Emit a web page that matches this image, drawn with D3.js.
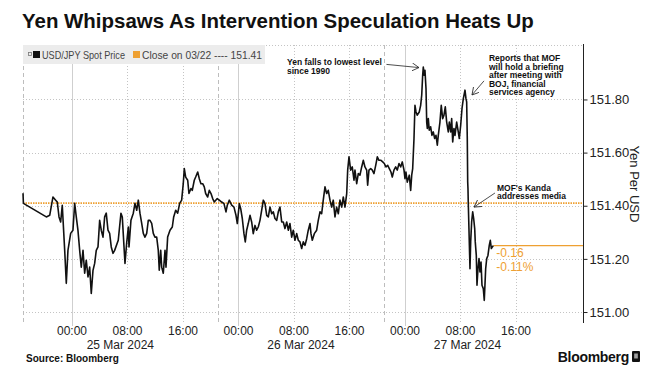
<!DOCTYPE html>
<html>
<head>
<meta charset="utf-8">
<script src="https://cdn.jsdelivr.net/npm/d3@7"></script>
<style>
  body { margin: 0; background: #fff; }
  svg { display: block; font-family: "Liberation Sans", Arial, sans-serif; }
</style>
</head>
<body>
<svg id="chart" width="669" height="383"></svg>
<script>
// hours from 25 Mar 2024 00:00, USD/JPY spot
const hours = [
  -7.06, -7.0, -3.70, -3.21, -2.74, -2.35, -2.12, -1.87, -1.63, -1.40, -1.05, -0.82, -0.58, -0.19,
  0.14, 0.39, 0.62, 0.86, 1.11, 1.34, 1.59, 1.83, 2.06, 2.31, 2.55, 2.78, 3.03, 3.27, 3.50, 3.75,
  3.99, 4.22, 4.47, 4.71, 4.94, 5.19, 5.43, 5.66, 5.91, 6.15,
  6.67, 7.06, 7.25, 7.64, 7.88, 8.12, 8.22, 8.50, 8.84, 9.08, 9.33, 9.56, 9.80, 10.05, 10.28, 10.52,
  10.77, 11.00, 11.24, 11.49, 11.72, 11.96, 12.21, 12.44, 12.58, 12.79, 12.93, 13.16, 13.41, 13.55,
  13.79, 14.13, 14.46, 14.66, 14.95, 15.24, 15.52, 15.81, 16.04, 16.19, 16.39, 16.68, 16.86, 17.15,
  17.34, 17.63, 17.83, 18.12, 18.35, 18.59, 18.84, 19.07, 19.27, 19.56, 19.79, 20.04, 20.28, 20.51,
  20.94, 21.23, 21.58, 21.91, 22.20, 22.39, 22.67, 23.02, 23.35, 23.64, 23.83, 24.12, 24.32, 24.55,
  24.79, 24.98, 25.18, 25.41, 25.66, 25.90, 26.13, 26.38, 26.62, 26.85, 27.10, 27.34, 27.58, 27.82,
  28.07, 28.30, 28.54, 28.79, 29.02, 29.26, 29.51, 29.74, 29.98, 30.23, 30.46, 30.70, 30.95, 31.18,
  31.42, 31.67, 31.90, 32.14, 32.39, 32.62, 32.86, 33.11, 33.34, 33.59, 33.83,
  34.06, 34.31, 34.45, 34.64, 34.93, 35.27, 35.50, 35.75, 35.99, 36.22, 36.47, 36.71, 36.94, 37.19,
  37.43, 37.66, 37.91, 38.15, 38.39, 38.63, 38.88, 39.11, 39.35, 39.60, 39.74, 39.93, 40.17, 40.40,
  40.65, 40.79, 41.04, 41.27, 41.51, 41.76, 41.99, 42.23, 42.48, 42.62, 42.81, 43.06, 43.29, 43.53,
  43.78, 44.01, 44.25, 44.54, 44.79, 45.02, 45.26, 45.51, 45.74, 45.98, 46.17, 46.41, 46.66, 46.89,
  47.14, 47.38, 47.61, 47.86,
  48.00, 48.14, 48.33, 48.62, 48.82, 48.97, 49.11, 49.30, 49.44, 49.59, 49.77, 50.06, 50.26, 50.41,
  50.55, 50.64, 50.78, 50.88, 51.03, 51.13, 51.22, 51.36, 51.50, 51.70, 51.89, 52.08, 52.28, 52.47,
  52.66, 52.80, 53.04, 53.23, 53.43, 53.62, 53.81, 54.01, 54.24, 54.39, 54.59, 54.73, 54.88, 55.06,
  55.21, 55.45, 55.68, 55.83, 56.03, 56.22, 56.41, 56.65, 56.79, 56.89, 56.98, 57.04, 57.08, 57.12,
  57.22, 57.37, 57.47, 57.61, 57.76, 57.90, 58.05, 58.13, 58.28, 58.38, 58.52, 58.67, 58.81, 58.96,
  59.10, 59.29, 59.43, 59.63, 59.78, 59.96, 60.15, 60.30, 60.45, 60.59, 60.73
];
const prices = [
  151.447, 151.409, 151.358, 151.364, 151.433, 151.421, 151.414, 151.358, 151.339, 151.402, 151.232, 151.108, 151.232, 151.296,
  151.308, 151.409, 151.358, 151.308, 151.232, 151.169, 151.232, 151.146, 151.195, 151.132, 151.169, 151.070, 151.157, 151.183, 151.232, 151.245,
  151.345, 151.308, 151.282, 151.358, 151.372, 151.308, 151.296, 151.245, 151.221, 151.232,
  151.270, 151.372, 151.358, 151.183, 151.259, 151.320, 151.245, 151.345, 151.372, 151.409, 151.383, 151.421, 151.372, 151.334, 151.296, 151.282,
  151.296, 151.345, 151.345, 151.334, 151.296, 151.282, 151.282, 151.232, 151.157, 151.232, 151.169, 151.146, 151.232, 151.169,
  151.282, 151.308, 151.320, 151.358, 151.383, 151.372, 151.409, 151.421, 151.483, 151.540, 151.508, 151.496, 151.446, 151.465,
  151.458, 151.496, 151.508, 151.527, 151.502, 151.483, 151.483, 151.471, 151.446, 151.433, 151.458, 151.446, 151.427, 151.414,
  151.427, 151.421, 151.414, 151.408, 151.377, 151.402, 151.421, 151.402, 151.395, 151.364, 151.333, 151.408, 151.389, 151.352,
  151.295, 151.264, 151.308, 151.333, 151.364, 151.339, 151.295, 151.326, 151.308, 151.320, 151.345, 151.383, 151.421, 151.408,
  151.364, 151.358, 151.395, 151.370, 151.377, 151.352, 151.345, 151.377, 151.395, 151.339, 151.339, 151.314, 151.339, 151.308,
  151.333, 151.282, 151.308, 151.270, 151.295, 151.270, 151.264, 151.239, 151.264, 151.251, 151.276,
  151.308, 151.333, 151.295, 151.270, 151.295, 151.308, 151.345, 151.377, 151.370, 151.421, 151.471, 151.446, 151.458, 151.421,
  151.395, 151.421, 151.358, 151.395, 151.370, 151.421, 151.395, 151.433, 151.395, 151.446, 151.534, 151.584, 151.534, 151.546,
  151.496, 151.534, 151.483, 151.521, 151.515, 151.546, 151.571, 151.546, 151.534, 151.477, 151.534, 151.540, 151.534, 151.521,
  151.552, 151.584, 151.571, 151.571, 151.565, 151.559, 151.546, 151.552, 151.540, 151.527, 151.508, 151.534, 151.546, 151.534,
  151.559, 151.546, 151.565, 151.534,
  151.502, 151.527, 151.489, 151.515, 151.458, 151.515, 151.540, 151.653, 151.778, 151.753, 151.741, 151.753, 151.778, 151.816,
  151.891, 151.922, 151.891, 151.910, 151.841, 151.715, 151.691, 151.728, 151.684, 151.697, 151.665, 151.678, 151.653, 151.665,
  151.628, 151.665, 151.715, 151.778, 151.728, 151.741, 151.772, 151.715, 151.678, 151.715, 151.678, 151.728, 151.640, 151.691,
  151.665, 151.715, 151.678, 151.653, 151.703, 151.766, 151.803, 151.835, 151.803, 151.791, 151.653, 151.489, 151.465, 151.414,
  151.314, 151.163, 151.264, 151.339, 151.377, 151.352, 151.314, 151.264, 151.213, 151.101, 151.163, 151.201, 151.151, 151.188,
  151.101, 151.088, 151.044, 151.163, 151.201, 151.213, 151.251, 151.270, 151.239, 151.245, 151.250
];

const closePrev = 151.41;
const changeLabels = ["-0.16", "-0.11%"];
const yTicks = [151.0, 151.2, 151.4, 151.6, 151.8];
const timeTicks = [0, 8, 16, 24, 32, 40, 48, 56, 64];
const sessionBreaks = [-7.06, 21, 45, 69];
const dayLabels = ["25 Mar 2024", "26 Mar 2024", "27 Mar 2024"];
const hourDomain = [-7.06, 73.66];
const priceDomain = [150.97, 152.005];

const notes = [
  { lines: ["Yen falls to lowest level", "since 1990"], h: 30.99, v: 151.928,
    from: [45.33, 151.932], to: [50.02, 151.920] },
  { lines: ["Reports that MOF", "will hold a briefing", "after meeting with", "BOJ, financial", "services agency"],
    h: 60.11, v: 151.945, from: [59.39, 151.870], to: [57.66, 151.817] },
  { lines: ["MOF's Kanda", "addresses media"], h: 61.26, v: 151.456,
    from: [60.97, 151.448], to: [57.95, 151.395] }
];

const ORANGE = "#eea032";
const base = Date.UTC(2024, 2, 25);
const toDate = h => new Date(base + h * 3600e3);

const svg = d3.select("#chart");
const plotL = 23, plotR = 583, plotT = 45, plotB = 320;

const x = d3.scaleUtc().domain(hourDomain.map(toDate)).range([plotL, plotR]);
const y = d3.scaleLinear().domain(priceDomain).range([plotB, plotT]);

// title, fitted to the reference width
const title = svg.append("text")
  .attr("x", 22).attr("y", 28)
  .attr("font-size", 20).attr("font-weight", "bold").attr("fill", "#111")
  .text("Yen Whipsaws As Intervention Speculation Heats Up");
const tw = title.node().getComputedTextLength();
title.attr("font-size", 20 * 512 / tw);

// grid
const grid = svg.append("g");
grid.selectAll(".hg").data(yTicks.concat([priceDomain[1]]))
  .join("line")
  .attr("x1", plotL).attr("x2", plotR)
  .attr("y1", d => Math.round(y(d)) + 0.5).attr("y2", d => Math.round(y(d)) + 0.5)
  .attr("stroke", "#c4c4c4").attr("stroke-dasharray", "1,2");

grid.selectAll(".vg").data(timeTicks)
  .join("line")
  .attr("x1", d => Math.round(x(toDate(d))) + 0.5).attr("x2", d => Math.round(x(toDate(d))) + 0.5)
  .attr("y1", plotT).attr("y2", d => d % 24 === 0 ? 326 : 323)
  .attr("stroke", d => d % 24 === 0 ? "#cfcfcf" : "#c4c4c4")
  .attr("stroke-dasharray", d => d % 24 === 0 ? null : "1,2");

grid.selectAll(".sb").data(sessionBreaks.slice(0, 3))
  .join("line")
  .attr("x1", d => Math.round(x(toDate(d))) + 0.5).attr("x2", d => Math.round(x(toDate(d))) + 0.5)
  .attr("y1", plotT).attr("y2", 323)
  .attr("stroke", "#bdbdbd").attr("stroke-dasharray", "4,3");

// legend
const lg = svg.append("g");
lg.append("rect").attr("x", 23).attr("y", 45).attr("width", 242).attr("height", 19).attr("fill", "#ececec");
lg.append("rect").attr("x", 28.5).attr("y", 52.5).attr("width", 3).attr("height", 3)
  .attr("fill", "none").attr("stroke", "#777").attr("stroke-width", 0.8);
lg.append("rect").attr("x", 33).attr("y", 51).attr("width", 7).attr("height", 7).attr("fill", "#111");
lg.append("text").attr("x", 42).attr("y", 58.5).attr("font-size", 10.5).attr("fill", "#444")
  .attr("textLength", 83).attr("lengthAdjust", "spacingAndGlyphs")
  .text("USD/JPY Spot Price");
lg.append("rect").attr("x", 133).attr("y", 51).attr("width", 7).attr("height", 7).attr("fill", ORANGE);
lg.append("text").attr("x", 142).attr("y", 58.5).attr("font-size", 10.5).attr("fill", "#444")
  .attr("textLength", 120).attr("lengthAdjust", "spacingAndGlyphs")
  .text("Close on 03/22 ---- " + closePrev.toFixed(2));

// previous close reference
svg.append("line")
  .attr("x1", plotL).attr("x2", plotR)
  .attr("y1", y(closePrev)).attr("y2", y(closePrev))
  .attr("stroke", ORANGE).attr("stroke-width", 1.6).attr("stroke-dasharray", "1.5,1");

// last value line and change labels
const lastH = hours[hours.length - 1], lastP = prices[prices.length - 1];
svg.append("line")
  .attr("x1", x(toDate(lastH))).attr("x2", plotR)
  .attr("y1", y(lastP)).attr("y2", y(lastP))
  .attr("stroke", ORANGE).attr("stroke-width", 1.2);
svg.selectAll(".chg").data(changeLabels)
  .join("text")
  .attr("x", x(toDate(lastH)) + 3)
  .attr("y", (d, i) => y(lastP) + 11 + i * 14)
  .attr("font-size", 12).attr("fill", ORANGE)
  .text(d => d);

// price line
const series = hours.map((h, i) => ({ t: toDate(h), v: prices[i] }));
svg.append("path")
  .datum(series)
  .attr("fill", "none").attr("stroke", "#111").attr("stroke-width", 1.6)
  .attr("stroke-linejoin", "round")
  .attr("d", d3.line().x(d => x(d.t)).y(d => y(d.v)));

// right axis
const ax = svg.append("g").attr("transform", `translate(${plotR + 0.5},0)`)
  .call(d3.axisRight(y).tickValues(yTicks).tickFormat(d3.format(".2f")).tickSize(4).tickSizeOuter(0));
ax.select(".domain").remove();
ax.append("line").attr("y1", 44).attr("y2", 323).attr("stroke", "#222");
ax.selectAll(".tick line").attr("stroke", "#222");
ax.selectAll(".tick text").attr("x", 6).attr("font-size", 13).attr("fill", "#222")
  .attr("font-family", "Liberation Sans, Arial, sans-serif");

svg.append("text")
  .attr("transform", "translate(633,184) rotate(90)")
  .attr("text-anchor", "middle").attr("dominant-baseline", "middle")
  .attr("font-size", 13).attr("fill", "#222")
  .text("Yen Per USD");

// x labels
const fmt = d3.utcFormat("%H:%M");
svg.selectAll(".xt").data(timeTicks)
  .join("text")
  .attr("x", d => x(toDate(d))).attr("y", 335)
  .attr("text-anchor", "middle").attr("font-size", 12).attr("fill", "#222")
  .text(d => fmt(toDate(d)));
svg.selectAll(".xd").data(dayLabels)
  .join("text")
  .attr("x", (d, i) => (x(toDate(sessionBreaks[i])) + x(toDate(sessionBreaks[i + 1]))) / 2)
  .attr("y", 349)
  .attr("text-anchor", "middle").attr("font-size", 12).attr("fill", "#222")
  .text(d => d);

// annotations
svg.append("defs").append("marker")
  .attr("id", "arr").attr("markerUnits", "userSpaceOnUse")
  .attr("markerWidth", 10).attr("markerHeight", 10)
  .attr("refX", 7).attr("refY", 4).attr("orient", "auto")
  .append("path").attr("d", "M0,0 L7,4 L0,8")
  .attr("fill", "none").attr("stroke", "#222").attr("stroke-width", 0.8);

notes.forEach(n => {
  const t = svg.append("text")
    .attr("x", x(toDate(n.h))).attr("y", y(n.v))
    .attr("font-size", 8.5).attr("font-weight", "bold").attr("fill", "#111");
  n.lines.forEach((l, i) => t.append("tspan")
    .attr("x", x(toDate(n.h))).attr("dy", i ? 8.6 : 0).text(l));
  svg.append("line")
    .attr("x1", x(toDate(n.from[0]))).attr("y1", y(n.from[1]))
    .attr("x2", x(toDate(n.to[0]))).attr("y2", y(n.to[1]))
    .attr("stroke", "#222").attr("stroke-width", 0.8)
    .attr("marker-end", "url(#arr)");
});

// footer
svg.append("text").attr("x", 26).attr("y", 362)
  .attr("font-size", 10).attr("font-weight", "bold").attr("fill", "#111")
  .text("Source: Bloomberg");
svg.append("text").attr("x", 629).attr("y", 362).attr("text-anchor", "end")
  .attr("font-size", 14).attr("font-weight", "bold").attr("fill", "#111")
  .attr("letter-spacing", -0.3)
  .text("Bloomberg");
svg.append("rect").attr("x", 632).attr("y", 351).attr("width", 8).attr("height", 11)
  .attr("rx", 1).attr("fill", "#111");
svg.append("rect").attr("x", 634.5).attr("y", 353.5).attr("width", 3).attr("height", 5).attr("fill", "#fff");
svg.append("line").attr("x1", 636).attr("x2", 636).attr("y1", 353).attr("y2", 359)
  .attr("stroke", "#111").attr("stroke-width", 0.8);
</script>
</body>
</html>
